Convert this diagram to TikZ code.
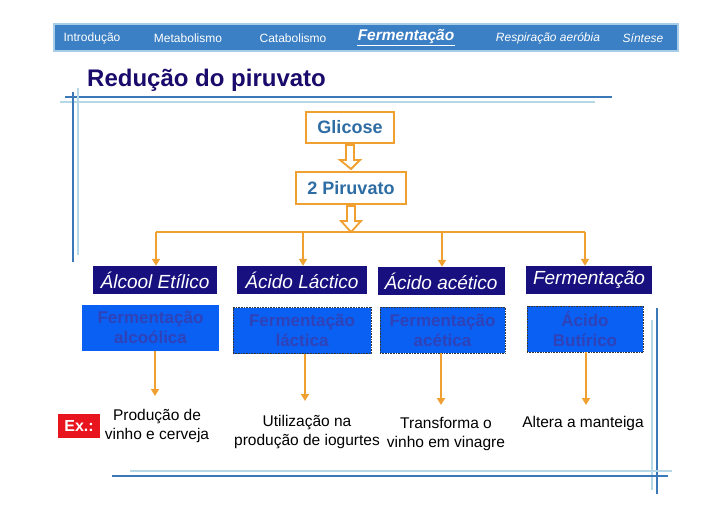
\documentclass[tikz,border=0pt]{standalone}
\usepackage{fontspec}
\setmainfont{Liberation Sans}
\usetikzlibrary{arrows.meta,calc}
\definecolor{barblue}{HTML}{3B7FC4}
\definecolor{barlight}{HTML}{A8CDE8}
\definecolor{linedark}{HTML}{3A78B8}
\definecolor{linelight}{HTML}{B4D8E6}
\definecolor{titlenavy}{HTML}{1A0A6B}
\definecolor{orangeln}{HTML}{F0A030}
\definecolor{steel}{HTML}{2E6DA4}
\definecolor{navybox}{HTML}{17107E}
\definecolor{brightblue}{HTML}{0A60F2}
\definecolor{bluetext}{HTML}{3042B8}
\definecolor{exred}{HTML}{E8141E}
\tikzset{
  menu/.style={text=white,font=\fontsize{12}{14}\selectfont,anchor=center},
  topbox/.style={draw=orangeln,line width=2pt,fill=white,text=steel,font=\bfseries\fontsize{18}{20}\selectfont,inner sep=0pt},
  darkbox/.style={fill=navybox,text=white,font=\itshape\fontsize{19}{21}\selectfont,minimum height=28pt,inner sep=0pt},
  bluebox/.style={fill=brightblue,text=bluetext,font=\bfseries\fontsize{17}{20}\selectfont,align=center,minimum height=46pt,inner sep=0pt},
  dotbord/.style={draw=black!80,densely dotted,line width=0.6pt},
  orarrow/.style={draw=orangeln,line width=2pt,-{Triangle[width=8pt,length=7pt]}},
  hollow/.style={draw=orangeln,line width=1.8pt,fill=white,line join=miter},
  extext/.style={font=\fontsize{15.5}{19}\selectfont,align=center,text=black},
}
\begin{document}
\begin{tikzpicture}[x=1pt,y=-1pt]
\useasboundingbox (0,0) rectangle (728,515);
% top bar
\fill[barlight] (53,23) rectangle (679,52);
\fill[barblue] (55,25) rectangle (677,50);
\node[menu] (m1) at (92,38) {Introdução};
\node[menu] (m2) at (188,38) {Metabolismo};
\node[menu] (m3) at (293,38) {Catabolismo};
\node[menu,font=\bfseries\itshape\fontsize{15.5}{17}\selectfont] (m4) at (406,37) {Fermentação};
\draw[white,line width=1pt] (m4.south west)++(3,-2.5) -- ($(m4.south east)+(-3,-2.5)$);
\node[menu,font=\itshape\fontsize{12}{14}\selectfont] (m5) at (548,38) {Respiração aeróbia};
\node[menu,font=\itshape\fontsize{12}{14}\selectfont] (m6) at (643,38) {Síntese};
% title
\node[anchor=west,text=titlenavy,font=\bfseries\fontsize{24}{26}\selectfont,inner sep=0pt] (title) at (87,80) {Redução do piruvato};
% decorative lines
\draw[linelight,line width=1.5pt] (60,102) -- (595,102);
\draw[linedark,line width=2pt] (65,97) -- (612,97);
\draw[linelight,line width=1.5pt] (78,88) -- (78,255);
\draw[linedark,line width=2pt] (73,92) -- (73,262);
\draw[linelight,line width=1.5pt] (652,320) -- (652,490);
\draw[linedark,line width=2pt] (657,308) -- (657,494);
\draw[linelight,line width=1.5pt] (130,471) -- (672,471);
\draw[linedark,line width=2pt] (112,476) -- (668,476);
% top boxes
\node[topbox,minimum width=88pt,minimum height=31pt] (g) at (350,127.5) {Glicose};
\node[topbox,minimum width=110pt,minimum height=32pt] (p) at (351,188) {2 Piruvato};
% hollow arrows
\draw[hollow] ($(g.south)+(-4,1)$) -- ($(g.south)+(4,1)$) -- ($(g.south)+(4,16)$) -- ($(g.south)+(10,16)$)
  -- ($(p.north)+(0,-2)$) -- ($(g.south)+(-10,16)$) -- ($(g.south)+(-4,16)$) -- cycle;
\coordinate (bus) at (351,232);
\draw[hollow] ($(p.south)+(-4,1)$) -- ($(p.south)+(4,1)$) -- ($(p.south)+(4,16)$) -- ($(p.south)+(10,16)$)
  -- (bus) -- ($(p.south)+(-10,16)$) -- ($(p.south)+(-4,16)$) -- cycle;
% dark boxes
\node[darkbox,minimum width=124pt] (d1) at (155,280) {Álcool Etílico};
\node[darkbox,minimum width=130pt] (d2) at (302,280) {Ácido Láctico};
\node[darkbox,minimum width=127pt] (d3) at (441,281) {Ácido acético};
\node[darkbox,minimum width=126pt] (d4) at (589,280) {Fermentação};
% bus
\coordinate (b1) at (156,232);
\coordinate (b2) at (303,232);
\coordinate (b3) at (442,232);
\coordinate (b4) at (585,232);
\draw[orangeln,line width=2pt] (b1) -- (b4);
\draw[orarrow] (b1) -- (b1 |- d1.north);
\draw[orarrow] (b2) -- (b2 |- d2.north);
\draw[orarrow] (b3) -- (b3 |- d3.north);
\draw[orarrow] (b4) -- (b4 |- d4.north);
% blue boxes
\node[bluebox,minimum width=137pt] (e1) at (150.5,327.5) {Fermentação\\alcoólica};
\node[bluebox,dotbord,fill=brightblue,minimum width=138pt] (e2) at (302,330.5) {Fermentação\\láctica};
\node[bluebox,dotbord,fill=brightblue,minimum width=125pt] (e3) at (442.5,330) {Fermentação\\acética};
\node[bluebox,dotbord,fill=brightblue,minimum width=116pt] (e4) at (585,329) {Ácido\\Butírico};
% example texts
\node[extext] (x1) at (157,426) {Produção de\\vinho e cerveja};
\node[extext] (x2) at (307,432) {Utilização na\\produção de iogurtes};
\node[extext] (x3) at (446,434) {Transforma o\\vinho em vinagre};
\node[extext] (x4) at (583,423) {Altera a manteiga};
\node[fill=exred,text=white,font=\bfseries\fontsize{16}{18}\selectfont,minimum width=42pt,minimum height=24pt,inner sep=0pt] (ex) at (79,426) {Ex.:};
% arrows to examples
\draw[orarrow] (e1.south -| 155,0) -- (155,396);
\draw[orarrow] (e2.south -| 305,0) -- (305,401);
\draw[orarrow] (e3.south -| 441,0) -- (441,405);
\draw[orarrow] (e4.south -| 586,0) -- (586,405);
\end{tikzpicture}
\end{document}
